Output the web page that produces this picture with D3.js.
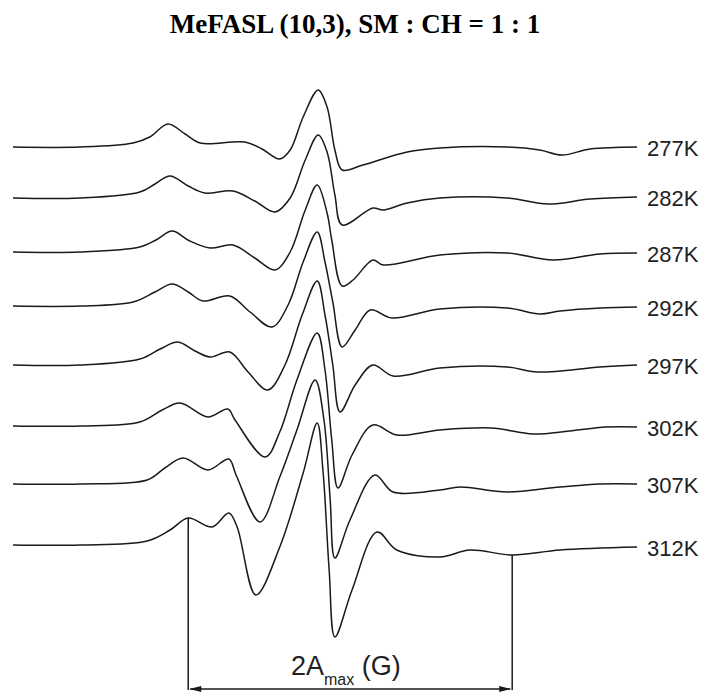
<!DOCTYPE html>
<html>
<head>
<meta charset="utf-8">
<script src="https://cdn.jsdelivr.net/npm/d3@7"></script>
<style>
  body { margin: 0; background: #fff; }
  svg { display: block; }
</style>
</head>
<body>
<div id="chart"></div>
<script>
// Data: EPR spectra, field offset (G) vs derivative amplitude (a.u.)
const temps = ["277K", "282K", "287K", "292K", "297K", "302K", "307K", "312K"];
// vertical stacking offset of each trace (a.u.)
const offsets = [398, 347, 293, 239, 180, 119, 61, 0];

const s277 = [[0,0],[12.9,0],[23.1,4],[26.3,10],[29.8,23],[33.1,13],[36.0,4],[44.6,5],[47.9,-2],[51.3,-12],[53.3,-3],[55.8,30],[58.7,57],[60.4,40],[61.9,-3],[63.3,-23],[67.3,-18],[75.8,-5],[82.1,-1],[95.0,0],[101.3,-3],[105.6,-8],[111.0,-2],[120,0]];
const s282 = [[0,0],[12.9,0],[24.4,6],[27.3,14],[30.2,22],[33.7,12],[36.9,5],[42.3,7],[46.5,-3],[50.4,-14],[53.3,0],[56.2,38],[58.7,63],[60.4,46],[61.9,3],[63.3,-27],[69.2,-10],[71.2,-12],[75.8,-5],[82.1,0],[95.0,0],[102.9,-6],[111.0,-1],[120,1]];
const s287 = [[0,0],[12.9,0],[24.4,5],[27.5,12],[30.6,21],[34.0,11],[37.9,4],[42.3,7],[46.5,-6],[50.4,-18],[53.3,0],[56.2,42],[58.5,67],[60.4,39],[61.3,12],[63.3,-34],[65.4,-28],[69.2,-8],[71.2,-13],[82.1,-3],[95.0,-1],[103.8,-8],[112.9,-2],[120,-1]];
const s292 = [[0,0],[12.9,0],[23.1,4],[27.3,14],[30.6,22],[33.7,14],[36.5,5],[41.7,10],[45.6,-6],[49.8,-21],[52.9,1],[55.8,44],[58.5,74],[60.0,44],[61.5,4],[63.3,-41],[65.8,-24],[68.7,-4],[72.9,-12],[82.1,-3],[95.0,-2],[101.3,-8],[105.2,-5],[112.9,-2],[120,-1]];
const s297 = [[0,0],[12.9,0],[24.4,6],[28.3,16],[31.7,23],[35.0,14],[37.9,8],[41.7,13],[45.2,-7],[49.0,-25],[52.3,0],[55.6,50],[58.5,84],[60.0,50],[61.5,0],[62.9,-47],[65.8,-20],[69.2,0],[73.1,-11],[82.1,-3],[95.0,-2],[100.8,-7],[112.9,-2],[120,0]];
const s302 = [[0,0],[12.9,0],[24.4,4],[28.7,16],[32.1,23],[37.5,9],[41.3,17],[42.7,6],[48.5,-31],[51.3,-6],[54.6,46],[58.5,93],[60.0,56],[61.3,-14],[62.5,-62],[65.2,-29],[69.2,1],[73.8,-9],[82.1,-4],[92.0,-2],[100.0,-8],[107.0,-5],[114.0,-1],[120,-1]];
const s307 = [[0,0],[12.9,0],[25.8,4],[29.2,16],[32.7,26],[37.5,14],[41.5,25],[42.9,9],[47.5,-38],[51.3,7],[54.6,54],[58.1,104],[59.8,64],[61.0,-16],[61.9,-74],[64.8,-36],[69.6,9],[73.1,-8],[82.1,-6],[86.0,-3],[95.0,-8],[105.2,-3],[112.9,0],[120,0]];
const s312 = [[0,0],[12.9,0],[25.8,4],[30.2,15],[33.7,27],[38.3,18],[41.5,32],[43.1,18],[46.7,-50],[51.3,-2],[55.8,72],[58.5,122],[59.6,75],[60.8,-25],[61.9,-92],[65.2,-45],[70.0,13],[73.8,-5],[82.1,-12],[87.9,-5],[96.0,-10],[105.2,-5],[120,-2]];
const spectra = [s277, s282, s287, s292, s297, s302, s307, s312];

// 2Amax: outer extrema of the 312K spectrum (field, G)
const amaxFields = [33.7, 96.0];

const title = "MeFASL (10,3), SM : CH = 1 : 1";

// Layout
const width = 706, height = 692;

const svg = d3.select('#chart').append('svg')
    .attr('width', width)
    .attr('height', height);

const x = d3.scaleLinear().domain([0, 120]).range([13, 637]);
const y = d3.scaleLinear().domain([0, 400]).range([545, 145]);

const line = d3.line()
    .x(d => x(d[0]))
    .y(d => y(d[1]))
    .curve(d3.curveCatmullRom.alpha(0.5));

// Title
svg.append('text')
    .attr('x', 355)
    .attr('y', 33)
    .attr('text-anchor', 'middle')
    .style('font-family', '"Liberation Serif", "Times New Roman", serif')
    .style('font-weight', 'bold')
    .style('font-size', '27px')
    .text(title);

// Spectra
spectra.forEach((s, i) => {
    const pts = s.map(d => [d[0], d[1] + offsets[i]]);
    svg.append('path')
        .datum(pts)
        .attr('fill', 'none')
        .attr('stroke', '#1a1a1a')
        .attr('stroke-width', 1.5)
        .attr('stroke-linejoin', 'round')
        .attr('d', line);

    const last = pts[pts.length - 1];
    svg.append('text')
        .attr('x', x(last[0]) + 10)
        .attr('y', y(last[1]) + 9)
        .style('font-family', '"Liberation Sans", Arial, sans-serif')
        .style('font-size', '22px')
        .style('fill', '#222')
        .text(temps[i]);
});

// 2Amax annotation
const ann = svg.append('g').attr('stroke', '#1a1a1a').attr('stroke-width', 1.5);
const bottomY = 690;
const arrowY = 689;
const s8 = spectra[spectra.length - 1];

function valueAt(field) {
    const p = s8.find(d => Math.abs(d[0] - field) < 0.05);
    return p ? p[1] : 0;
}

amaxFields.forEach(f => {
    ann.append('line')
        .attr('x1', x(f)).attr('x2', x(f))
        .attr('y1', y(valueAt(f))).attr('y2', bottomY);
});

ann.append('line')
    .attr('x1', x(amaxFields[0]) + 2).attr('x2', x(amaxFields[1]) - 2)
    .attr('y1', arrowY).attr('y2', arrowY);

// arrowheads
const xl = x(amaxFields[0]) + 1, xr = x(amaxFields[1]) - 1;
svg.append('path')
    .attr('d', `M${xl},${arrowY} L${xl + 12},${arrowY - 3} L${xl + 12},${arrowY + 3} Z`)
    .attr('fill', '#1a1a1a');
svg.append('path')
    .attr('d', `M${xr},${arrowY} L${xr - 12},${arrowY - 3} L${xr - 12},${arrowY + 3} Z`)
    .attr('fill', '#1a1a1a');

const lab = svg.append('text')
    .attr('x', 291)
    .attr('y', 675)
    .style('font-family', '"Liberation Sans", Arial, sans-serif')
    .style('font-size', '27px')
    .style('fill', '#222');
lab.append('tspan').text('2A');
lab.append('tspan').attr('dy', 10).style('font-size', '16px').text('max');
lab.append('tspan').attr('dy', -10).text(' (G)');
</script>
</body>
</html>
